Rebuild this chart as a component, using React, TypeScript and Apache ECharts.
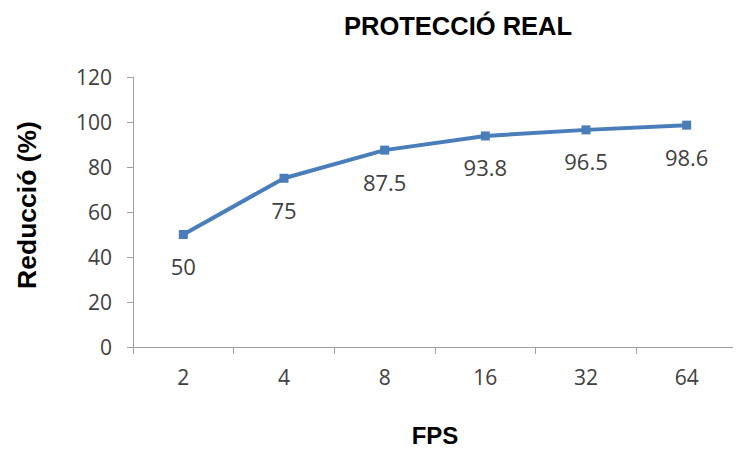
import React, { useEffect, useRef } from "react";
import * as echarts from "echarts";

const categories = ["2", "4", "8", "16", "32", "64"];
const reductionValues = [50, 75, 87.5, 93.8, 96.5, 98.6];
const yTicks = { min: 0, max: 120, interval: 20 };

const boldFont = "Liberation Sans, Arial, sans-serif";
const labelFont = "Open Sans, Noto Sans, sans-serif";

export default function App() {
  const ref = useRef<HTMLDivElement>(null);
  useEffect(() => {
    if (!ref.current) return;
    const chart = echarts.init(ref.current, undefined, { renderer: "svg" });
    chart.setOption({
      animation: false,
      backgroundColor: "#ffffff",
      title: {
        text: "PROTECCIÓ REAL",
        left: 453,
        top: 8,
        textAlign: "center",
        textStyle: { fontFamily: boldFont, fontWeight: "bold", fontSize: 25.5, color: "#000" },
      },
      graphic: [
        {
          type: "text",
          x: 27,
          y: 205,
          rotation: Math.PI / 2,
          style: {
            text: "Reducció (%)",
            fontFamily: boldFont,
            fontWeight: "bold",
            fontSize: 26.5,
            fill: "#000",
            textAlign: "center",
            textVerticalAlign: "middle",
          },
        },
      ],
      grid: { left: 133, right: 4, top: 77, bottom: 101, containLabel: false },
      xAxis: {
        type: "category",
        data: categories,
        boundaryGap: true,
        name: "FPS",
        nameLocation: "middle",
        nameGap: 76,
        nameTextStyle: { fontFamily: boldFont, fontWeight: "bold", fontSize: 24, color: "#000" },
        axisLine: { lineStyle: { color: "#A0A0A0", width: 1 } },
        axisTick: { show: true, length: 7, lineStyle: { color: "#A0A0A0" } },
        axisLabel: { fontFamily: labelFont, fontSize: 21, color: "#404040", margin: 19 },
      },
      yAxis: {
        type: "value",
        min: yTicks.min,
        max: yTicks.max,
        interval: yTicks.interval,
        axisLine: { show: true, lineStyle: { color: "#A0A0A0", width: 1 } },
        axisTick: { show: true, length: 6, lineStyle: { color: "#A0A0A0" } },
        splitLine: { show: false },
        axisLabel: { fontFamily: labelFont, fontSize: 21, color: "#404040", margin: 21 },
      },
      series: [
        {
          type: "line",
          data: reductionValues,
          symbol: "rect",
          symbolSize: 9,
          lineStyle: { color: "#4A7EBB", width: 4 },
          itemStyle: { color: "#4A7EBB" },
          label: {
            show: true,
            position: "bottom",
            distance: 16,
            fontFamily: labelFont,
            fontSize: 22,
            color: "#404040",
          },
        },
      ],
    });
    return () => chart.dispose();
  }, []);
  return <div ref={ref} style={{ width: 741, height: 452, margin: -8 }} />;
}
